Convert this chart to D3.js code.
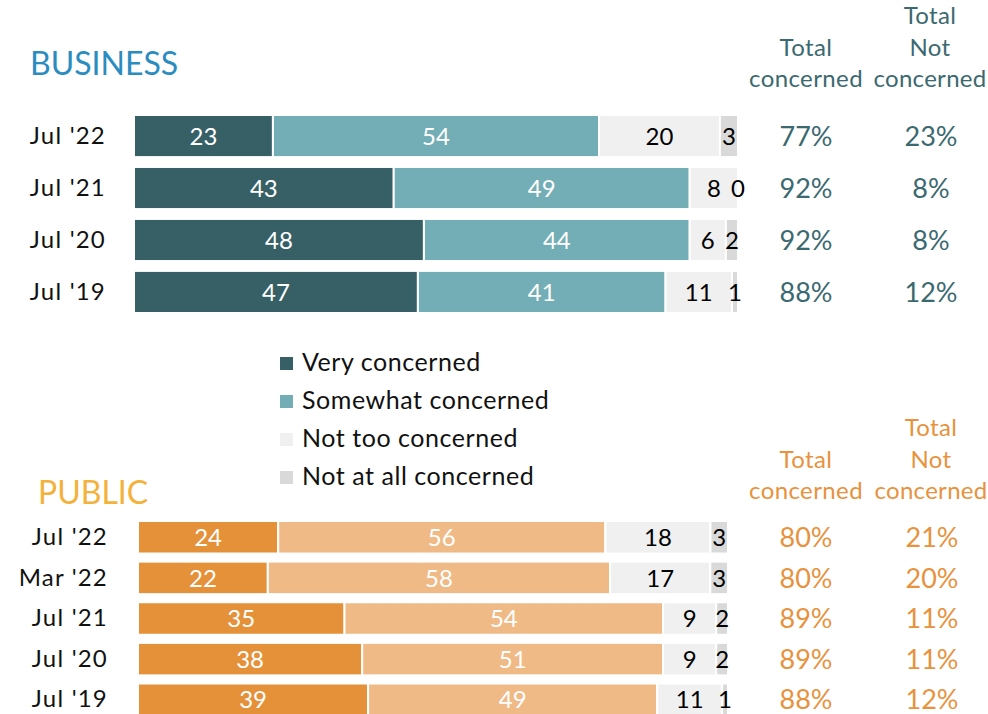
<!DOCTYPE html>
<html>
<head>
<meta charset="utf-8">
<script src="https://cdn.jsdelivr.net/npm/d3@7"></script>
<style>
  html, body { margin: 0; padding: 0; background: #ffffff; }
  svg { display: block; font-family: Lato, "Open Sans", sans-serif; }
</style>
</head>
<body>
<svg id="chart" width="988" height="714"></svg>
<script>
// Survey responses: level of concern, business vs. public
const seriesNames = ["Very concerned", "Somewhat concerned", "Not too concerned", "Not at all concerned"];

const businessWaves = ["Jul '22", "Jul '21", "Jul '20", "Jul '19"];
const businessVery = [23, 43, 48, 47];
const businessSomewhat = [54, 49, 44, 41];
const businessNotToo = [20, 8, 6, 11];
const businessNotAtAll = [3, 0, 2, 1];
const businessTotalConcerned = ["77%", "92%", "92%", "88%"];
const businessTotalNot = ["23%", "8%", "8%", "12%"];

const publicWaves = ["Jul '22", "Mar '22", "Jul '21", "Jul '20", "Jul '19"];
const publicVery = [24, 22, 35, 38, 39];
const publicSomewhat = [56, 58, 54, 51, 49];
const publicNotToo = [18, 17, 9, 9, 11];
const publicNotAtAll = [3, 3, 2, 2, 1];
const publicTotalConcerned = ["80%", "80%", "89%", "89%", "88%"];
const publicTotalNot = ["21%", "20%", "11%", "11%", "12%"];

const svg = d3.select("#chart");

function drawPanel(cfg) {
  const rows = cfg.waves.map((w, i) => ({
    wave: w,
    values: [cfg.very[i], cfg.somewhat[i], cfg.notToo[i], cfg.notAtAll[i]],
    tc: cfg.tc[i],
    tn: cfg.tn[i]
  }));

  // 100% stacked: each row spans the full width
  const x = d3.scaleLinear().domain([0, 1]).range([cfg.x0, cfg.x1]);
  const y = d3.scaleBand().domain(cfg.waves).range([cfg.y0, cfg.y1]).paddingInner(cfg.padIn).paddingOuter(0);
  const g = svg.append("g");

  // Panel title
  g.append("text")
    .attr("x", cfg.titleX).attr("y", cfg.titleY)
    .attr("font-size", 32).attr("fill", cfg.titleColor)
    .text(cfg.title);

  // Wave labels on the left
  g.append("g")
    .attr("transform", `translate(${cfg.labelX},0)`)
    .call(d3.axisLeft(y).tickSize(0).tickPadding(0))
    .call(a => a.select(".domain").remove())
    .selectAll("text")
    .attr("font-size", 24).attr("letter-spacing", 1.2)
    .attr("fill", "#111").attr("font-family", "Lato, sans-serif");

  // Stacked segments
  const rowG = g.selectAll(".row").data(rows).join("g")
    .attr("transform", d => `translate(0,${y(d.wave)})`);

  rowG.each(function (d) {
    const total = d3.sum(d.values);
    let acc = 0;
    const segs = d.values.map((v, k) => {
      const s = { k, v, start: acc / total, end: (acc + v) / total };
      acc += v;
      return s;
    });
    const sel = d3.select(this);
    sel.selectAll("rect").data(segs).join("rect")
      .attr("x", s => x(s.start))
      .attr("y", 0)
      .attr("width", s => x(s.end) - x(s.start))
      .attr("height", y.bandwidth())
      .attr("fill", s => cfg.colors[s.k])
      .attr("stroke", "#ffffff").attr("stroke-width", 2);
    sel.selectAll("text.val").data(segs).join("text")
      .attr("class", "val")
      .attr("x", s => (x(s.start) + x(s.end)) / 2)
      .attr("y", y.bandwidth() / 2)
      .attr("dy", "0.36em")
      .attr("text-anchor", "middle")
      .attr("font-size", 24)
      .attr("fill", s => s.k < 2 ? "#ffffff" : "#000000")
      .text(s => s.v);
  });

  // Totals columns
  rowG.append("text")
    .attr("x", cfg.col1X).attr("y", y.bandwidth() / 2).attr("dy", "0.36em")
    .attr("text-anchor", "middle").attr("font-size", 27).attr("fill", cfg.totalColor)
    .text(d => d.tc);
  rowG.append("text")
    .attr("x", cfg.col2X).attr("y", y.bandwidth() / 2).attr("dy", "0.36em")
    .attr("text-anchor", "middle").attr("font-size", 27).attr("fill", cfg.totalColor)
    .text(d => d.tn);

  // Column headers
  const h1 = ["Total", "concerned"];
  const h2 = ["Total", "Not", "concerned"];
  g.selectAll(".h1").data(h1).join("text")
    .attr("x", cfg.col1X).attr("y", (d, i) => cfg.headY - (h1.length - 1 - i) * 31.5)
    .attr("text-anchor", "middle").attr("font-size", 24).attr("letter-spacing", 0.4)
    .attr("fill", cfg.totalColor)
    .text(d => d);
  g.selectAll(".h2").data(h2).join("text")
    .attr("x", cfg.col2X - 1).attr("y", (d, i) => cfg.headY - (h2.length - 1 - i) * 31.5)
    .attr("text-anchor", "middle").attr("font-size", 24).attr("letter-spacing", 0.3)
    .attr("fill", cfg.totalColor)
    .text(d => d);
}

drawPanel({
  title: "BUSINESS", titleX: 30, titleY: 75, titleColor: "#2b8cc0",
  waves: businessWaves, very: businessVery, somewhat: businessSomewhat,
  notToo: businessNotToo, notAtAll: businessNotAtAll,
  tc: businessTotalConcerned, tn: businessTotalNot,
  colors: ["#375f66", "#73adb5", "#f0f0f0", "#d9d9d9"],
  x0: 134, x1: 738, y0: 115, y1: 313, padIn: 0.19,
  labelX: 106, col1X: 806, col2X: 931, headY: 87,
  totalColor: "#3b6970"
});

drawPanel({
  title: "PUBLIC", titleX: 38, titleY: 504, titleColor: "#f4b23a",
  waves: publicWaves, very: publicVery, somewhat: publicSomewhat,
  notToo: publicNotToo, notAtAll: publicNotAtAll,
  tc: publicTotalConcerned, tn: publicTotalNot,
  colors: ["#e5913a", "#efba86", "#f0f0f0", "#d9d9d9"],
  x0: 138, x1: 728, y0: 521, y1: 716, padIn: 0.2,
  labelX: 108, col1X: 806, col2X: 932, headY: 499,
  totalColor: "#e8923d"
});

// Legend between the two panels
const legendColors = ["#375f66", "#73adb5", "#f0f0f0", "#d9d9d9"];
const legend = svg.append("g").attr("transform", "translate(280,362)");
const item = legend.selectAll("g").data(seriesNames).join("g")
  .attr("transform", (d, i) => `translate(0,${i * 38})`);
item.append("rect").attr("x", 0).attr("y", -5).attr("width", 13).attr("height", 13)
  .attr("fill", (d, i) => legendColors[i]);
item.append("text").attr("x", 22).attr("y", 9)
  .attr("font-size", 25).attr("letter-spacing", 0.55).attr("fill", "#111").text(d => d);
</script>
</body>
</html>
